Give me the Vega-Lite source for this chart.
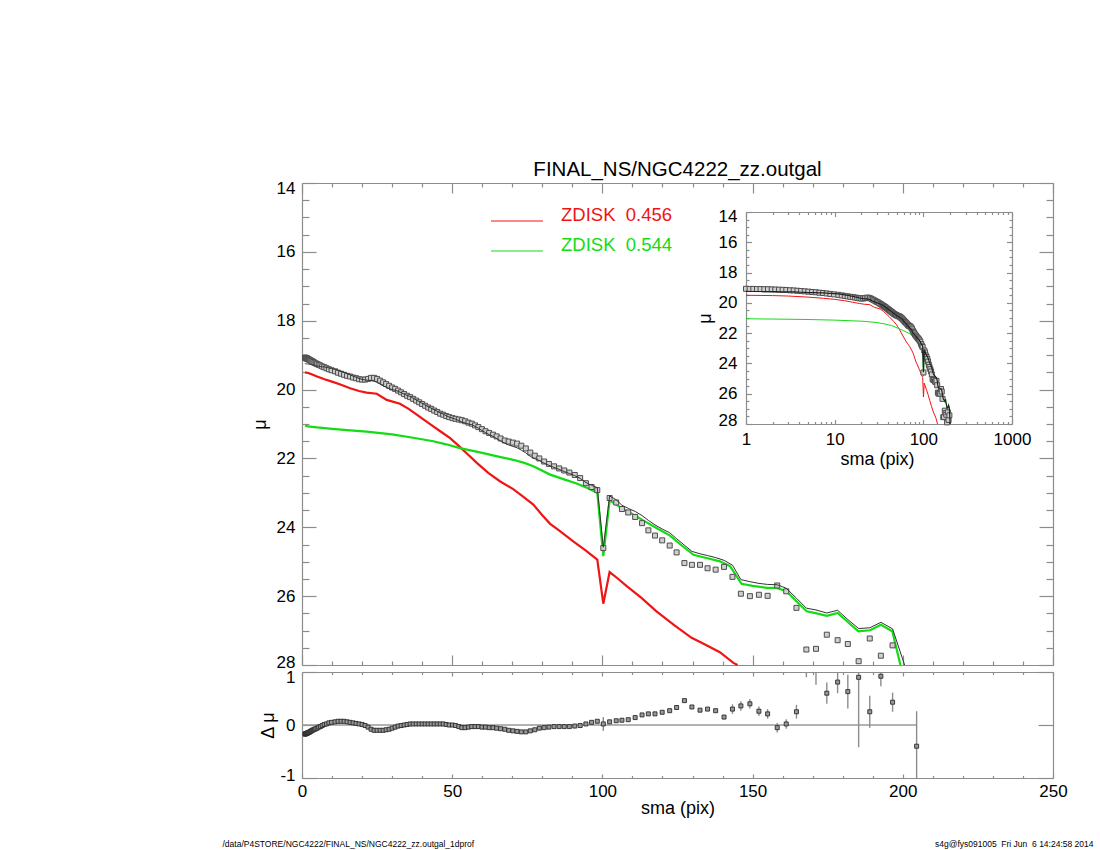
{
  "$schema": "https://vega.github.io/schema/vega-lite/v6.json",
  "width": 751,
  "height": 595,
  "autosize": "none",
  "padding": {"left": 302, "top": 183, "right": 47, "bottom": 72},
  "background": "white",
  "title": {
    "text": "FINAL_NS/NGC4222_zz.outgal",
    "frame": "group",
    "anchor": "middle",
    "baseline": "alphabetic",
    "offset": -17,
    "fontSize": 20.5,
    "fontWeight": "normal",
    "font": "Liberation Sans",
    "color": "black"
  },
  "datasets": {
    "prof": [
      {"sma": 1, "mu": 19.07, "res": -0.17, "model": 19.24},
      {"sma": 1.1, "mu": 19.08, "res": -0.17, "model": 19.25},
      {"sma": 1.21, "mu": 19.08, "res": -0.17, "model": 19.25},
      {"sma": 1.33, "mu": 19.09, "res": -0.16, "model": 19.25},
      {"sma": 1.46, "mu": 19.09, "res": -0.16, "model": 19.25},
      {"sma": 1.61, "mu": 19.1, "res": -0.16, "model": 19.26},
      {"sma": 1.77, "mu": 19.1, "res": -0.15, "model": 19.25},
      {"sma": 1.95, "mu": 19.11, "res": -0.15, "model": 19.26},
      {"sma": 2.14, "mu": 19.12, "res": -0.14, "model": 19.26},
      {"sma": 2.36, "mu": 19.13, "res": -0.14, "model": 19.27},
      {"sma": 2.59, "mu": 19.14, "res": -0.13, "model": 19.27},
      {"sma": 2.85, "mu": 19.15, "res": -0.12, "model": 19.27},
      {"sma": 3.14, "mu": 19.17, "res": -0.11, "model": 19.28},
      {"sma": 3.45, "mu": 19.18, "res": -0.1, "model": 19.28},
      {"sma": 3.8, "mu": 19.2, "res": -0.09, "model": 19.29},
      {"sma": 4.18, "mu": 19.22, "res": -0.08, "model": 19.3},
      {"sma": 4.6, "mu": 19.24, "res": -0.07, "model": 19.31},
      {"sma": 5.05, "mu": 19.26, "res": -0.06, "model": 19.32},
      {"sma": 5.56, "mu": 19.28, "res": -0.04, "model": 19.32},
      {"sma": 6.12, "mu": 19.3, "res": -0.03, "model": 19.33},
      {"sma": 6.73, "mu": 19.33, "res": -0.01, "model": 19.34},
      {"sma": 7.4, "mu": 19.35, "res": 0.01, "model": 19.34},
      {"sma": 8.14, "mu": 19.38, "res": 0.02, "model": 19.36},
      {"sma": 8.95, "mu": 19.41, "res": 0.04, "model": 19.37},
      {"sma": 9.85, "mu": 19.44, "res": 0.05, "model": 19.39},
      {"sma": 11, "mu": 19.47, "res": 0.06, "model": 19.41},
      {"sma": 12, "mu": 19.51, "res": 0.07, "model": 19.44},
      {"sma": 13, "mu": 19.54, "res": 0.07, "model": 19.47},
      {"sma": 14, "mu": 19.57, "res": 0.07, "model": 19.5},
      {"sma": 15, "mu": 19.6, "res": 0.06, "model": 19.54},
      {"sma": 16, "mu": 19.62, "res": 0.05, "model": 19.57},
      {"sma": 17, "mu": 19.65, "res": 0.04, "model": 19.61},
      {"sma": 18, "mu": 19.67, "res": 0.03, "model": 19.64},
      {"sma": 19, "mu": 19.7, "res": 0.02, "model": 19.68},
      {"sma": 20, "mu": 19.71, "res": 0.01, "model": 19.7},
      {"sma": 21, "mu": 19.71, "res": -0.01, "model": 19.72},
      {"sma": 22, "mu": 19.69, "res": -0.04, "model": 19.73},
      {"sma": 23, "mu": 19.66, "res": -0.08, "model": 19.74},
      {"sma": 24, "mu": 19.66, "res": -0.1, "model": 19.76},
      {"sma": 25, "mu": 19.69, "res": -0.1, "model": 19.79},
      {"sma": 26, "mu": 19.74, "res": -0.1, "model": 19.84},
      {"sma": 27, "mu": 19.79, "res": -0.1, "model": 19.89},
      {"sma": 28, "mu": 19.84, "res": -0.09, "model": 19.93},
      {"sma": 29, "mu": 19.89, "res": -0.08, "model": 19.97},
      {"sma": 30, "mu": 19.94, "res": -0.06, "model": 20.0},
      {"sma": 31, "mu": 19.98, "res": -0.04, "model": 20.02},
      {"sma": 32, "mu": 20.03, "res": -0.02, "model": 20.05},
      {"sma": 33, "mu": 20.08, "res": -0.01, "model": 20.09},
      {"sma": 34, "mu": 20.13, "res": 0.0, "model": 20.13},
      {"sma": 35, "mu": 20.18, "res": 0.01, "model": 20.17},
      {"sma": 36, "mu": 20.22, "res": 0.02, "model": 20.2},
      {"sma": 37, "mu": 20.27, "res": 0.02, "model": 20.25},
      {"sma": 38, "mu": 20.32, "res": 0.02, "model": 20.3},
      {"sma": 39, "mu": 20.37, "res": 0.02, "model": 20.35},
      {"sma": 40, "mu": 20.42, "res": 0.02, "model": 20.4},
      {"sma": 41, "mu": 20.47, "res": 0.02, "model": 20.45},
      {"sma": 42, "mu": 20.52, "res": 0.02, "model": 20.5},
      {"sma": 43, "mu": 20.56, "res": 0.02, "model": 20.54},
      {"sma": 44, "mu": 20.61, "res": 0.02, "model": 20.59},
      {"sma": 45, "mu": 20.65, "res": 0.02, "model": 20.63},
      {"sma": 46, "mu": 20.7, "res": 0.02, "model": 20.68},
      {"sma": 47, "mu": 20.73, "res": 0.02, "model": 20.71},
      {"sma": 48, "mu": 20.77, "res": 0.01, "model": 20.76},
      {"sma": 49, "mu": 20.8, "res": 0.0, "model": 20.8},
      {"sma": 50.1, "mu": 20.83, "res": 0.0, "model": 20.83},
      {"sma": 51.1, "mu": 20.85, "res": -0.01, "model": 20.86},
      {"sma": 52.2, "mu": 20.87, "res": -0.03, "model": 20.9},
      {"sma": 53.2, "mu": 20.89, "res": -0.05, "model": 20.94},
      {"sma": 54.3, "mu": 20.92, "res": -0.05, "model": 20.97},
      {"sma": 55.4, "mu": 20.96, "res": -0.04, "model": 21.0},
      {"sma": 56.5, "mu": 20.99, "res": -0.03, "model": 21.02},
      {"sma": 57.6, "mu": 21.04, "res": -0.03, "model": 21.07},
      {"sma": 58.7, "mu": 21.09, "res": -0.03, "model": 21.12},
      {"sma": 59.9, "mu": 21.15, "res": -0.04, "model": 21.19},
      {"sma": 61.1, "mu": 21.21, "res": -0.04, "model": 21.25},
      {"sma": 62.3, "mu": 21.26, "res": -0.05, "model": 21.31},
      {"sma": 63.6, "mu": 21.31, "res": -0.05, "model": 21.36},
      {"sma": 64.8, "mu": 21.36, "res": -0.06, "model": 21.42},
      {"sma": 66.1, "mu": 21.42, "res": -0.07, "model": 21.49},
      {"sma": 67.5, "mu": 21.48, "res": -0.08, "model": 21.56},
      {"sma": 68.8, "mu": 21.51, "res": -0.1, "model": 21.61},
      {"sma": 70.2, "mu": 21.54, "res": -0.11, "model": 21.65},
      {"sma": 71.6, "mu": 21.57, "res": -0.12, "model": 21.69},
      {"sma": 73.0, "mu": 21.63, "res": -0.13, "model": 21.76},
      {"sma": 74.5, "mu": 21.71, "res": -0.13, "model": 21.84},
      {"sma": 76.0, "mu": 21.83, "res": -0.11, "model": 21.94},
      {"sma": 77.5, "mu": 21.92, "res": -0.09, "model": 22.01},
      {"sma": 79.0, "mu": 22.0, "res": -0.06, "model": 22.06},
      {"sma": 80.6, "mu": 22.09, "res": -0.05, "model": 22.14},
      {"sma": 82.2, "mu": 22.16, "res": -0.04, "model": 22.2},
      {"sma": 83.9, "mu": 22.23, "res": -0.03, "model": 22.26},
      {"sma": 85.6, "mu": 22.29, "res": -0.03, "model": 22.32},
      {"sma": 87.3, "mu": 22.35, "res": -0.03, "model": 22.38},
      {"sma": 89.0, "mu": 22.41, "res": -0.03, "model": 22.44},
      {"sma": 90.8, "mu": 22.48, "res": -0.02, "model": 22.5},
      {"sma": 92.6, "mu": 22.57, "res": -0.01, "model": 22.58},
      {"sma": 94.5, "mu": 22.72, "res": 0.02, "model": 22.7},
      {"sma": 96.4, "mu": 22.83, "res": 0.05, "model": 22.78},
      {"sma": 98.3, "mu": 22.92, "res": 0.07, "model": 22.85},
      {"sma": 100.3, "mu": 24.6, "res": 0.02, "model": 24.58, "err": 0.13},
      {"sma": 102.4, "mu": 23.15, "res": 0.06, "model": 23.09},
      {"sma": 104.6, "mu": 23.28, "res": 0.08, "model": 23.2},
      {"sma": 106.5, "mu": 23.47, "res": 0.09, "model": 23.36},
      {"sma": 108.6, "mu": 23.57, "res": 0.1, "model": 23.45},
      {"sma": 110.9, "mu": 23.7, "res": 0.14, "model": 23.54},
      {"sma": 113.2, "mu": 23.88, "res": 0.19, "model": 23.66},
      {"sma": 115.3, "mu": 24.09, "res": 0.21, "model": 23.8},
      {"sma": 117.5, "mu": 24.24, "res": 0.21, "model": 23.93},
      {"sma": 119.9, "mu": 24.38, "res": 0.24, "model": 24.05},
      {"sma": 122.4, "mu": 24.53, "res": 0.27, "model": 24.16},
      {"sma": 124.7, "mu": 24.73, "res": 0.33, "model": 24.33},
      {"sma": 127.3, "mu": 25.04, "res": 0.46, "model": 24.52},
      {"sma": 129.8, "mu": 25.09, "res": 0.34, "model": 24.7},
      {"sma": 132.5, "mu": 25.09, "res": 0.28, "model": 24.77},
      {"sma": 135.0, "mu": 25.19, "res": 0.3, "model": 24.82},
      {"sma": 137.7, "mu": 25.23, "res": 0.27, "model": 24.88},
      {"sma": 140.5, "mu": 25.15, "res": 0.15, "model": 24.96, "err": 0.04},
      {"sma": 143.3, "mu": 25.44, "res": 0.3, "model": 25.1, "err": 0.09},
      {"sma": 146.1, "mu": 25.93, "res": 0.36, "model": 25.52, "err": 0.09},
      {"sma": 149.1, "mu": 26.0, "res": 0.4, "model": 25.58, "err": 0.09},
      {"sma": 152.1, "mu": 25.96, "res": 0.26, "model": 25.63, "err": 0.09},
      {"sma": 155.0, "mu": 25.99, "res": 0.21, "model": 25.66, "err": 0.09},
      {"sma": 158.2, "mu": 25.69, "res": -0.05, "model": 25.67, "err": 0.09},
      {"sma": 161.2, "mu": 25.86, "res": 0.02, "model": 25.77, "err": 0.09},
      {"sma": 164.6, "mu": 26.34, "res": 0.25, "model": 26.06, "err": 0.13},
      {"sma": 167.9, "mu": 27.55, "res": 1.2, "model": 26.35, "err": 0.3},
      {"sma": 171.1, "mu": 27.53, "res": 1.15, "model": 26.4, "err": 0.39},
      {"sma": 174.7, "mu": 27.12, "res": 0.6, "model": 26.49, "err": 0.2},
      {"sma": 178.3, "mu": 27.28, "res": 0.81, "model": 26.41, "err": 0.21},
      {"sma": 181.7, "mu": 27.39, "res": 0.63, "model": 26.68, "err": 0.32},
      {"sma": 185.3, "mu": 27.89, "res": 0.9, "model": 26.94, "err": 1.32},
      {"sma": 189.0, "mu": 27.23, "res": 0.25, "model": 26.92, "err": 0.3},
      {"sma": 192.7, "mu": 27.73, "res": 0.92, "model": 26.76, "err": 0.19},
      {"sma": 196.6, "mu": 27.43, "res": 0.43, "model": 26.95, "err": 0.18},
      {"sma": 200.6, "model": 28.05},
      {"sma": 204.6, "mu": 28.4, "res": -0.4, "err": 0.66}
    ],
    "comp": [
      {"comp": "ZDISK 0.456", "sma": 1, "mag": 19.5},
      {"comp": "ZDISK 0.456", "sma": 2, "mag": 19.52},
      {"comp": "ZDISK 0.456", "sma": 3, "mag": 19.55},
      {"comp": "ZDISK 0.456", "sma": 5, "mag": 19.62},
      {"comp": "ZDISK 0.456", "sma": 7.5, "mag": 19.7},
      {"comp": "ZDISK 0.456", "sma": 10, "mag": 19.77},
      {"comp": "ZDISK 0.456", "sma": 13, "mag": 19.86},
      {"comp": "ZDISK 0.456", "sma": 16, "mag": 19.96},
      {"comp": "ZDISK 0.456", "sma": 19, "mag": 20.04},
      {"comp": "ZDISK 0.456", "sma": 21.5, "mag": 20.09},
      {"comp": "ZDISK 0.456", "sma": 24.9, "mag": 20.12},
      {"comp": "ZDISK 0.456", "sma": 28.2, "mag": 20.3},
      {"comp": "ZDISK 0.456", "sma": 32.6, "mag": 20.41},
      {"comp": "ZDISK 0.456", "sma": 35.5, "mag": 20.56},
      {"comp": "ZDISK 0.456", "sma": 38.2, "mag": 20.73},
      {"comp": "ZDISK 0.456", "sma": 41, "mag": 20.9},
      {"comp": "ZDISK 0.456", "sma": 43.7, "mag": 21.07},
      {"comp": "ZDISK 0.456", "sma": 46.5, "mag": 21.24},
      {"comp": "ZDISK 0.456", "sma": 49.3, "mag": 21.41},
      {"comp": "ZDISK 0.456", "sma": 52, "mag": 21.62},
      {"comp": "ZDISK 0.456", "sma": 54.8, "mag": 21.85},
      {"comp": "ZDISK 0.456", "sma": 58.2, "mag": 22.13},
      {"comp": "ZDISK 0.456", "sma": 62, "mag": 22.42},
      {"comp": "ZDISK 0.456", "sma": 66, "mag": 22.67},
      {"comp": "ZDISK 0.456", "sma": 70.3, "mag": 22.89},
      {"comp": "ZDISK 0.456", "sma": 73.5, "mag": 23.1},
      {"comp": "ZDISK 0.456", "sma": 77, "mag": 23.34},
      {"comp": "ZDISK 0.456", "sma": 80, "mag": 23.65},
      {"comp": "ZDISK 0.456", "sma": 82.6, "mag": 23.9},
      {"comp": "ZDISK 0.456", "sma": 85, "mag": 24.05},
      {"comp": "ZDISK 0.456", "sma": 90.3, "mag": 24.41},
      {"comp": "ZDISK 0.456", "sma": 94.5, "mag": 24.68},
      {"comp": "ZDISK 0.456", "sma": 98.3, "mag": 24.94},
      {"comp": "ZDISK 0.456", "sma": 100.3, "mag": 26.22},
      {"comp": "ZDISK 0.456", "sma": 102.4, "mag": 25.3},
      {"comp": "ZDISK 0.456", "sma": 105, "mag": 25.48},
      {"comp": "ZDISK 0.456", "sma": 108.1, "mag": 25.71},
      {"comp": "ZDISK 0.456", "sma": 113, "mag": 26.05},
      {"comp": "ZDISK 0.456", "sma": 118, "mag": 26.44},
      {"comp": "ZDISK 0.456", "sma": 124, "mag": 26.85},
      {"comp": "ZDISK 0.456", "sma": 129.7, "mag": 27.21},
      {"comp": "ZDISK 0.456", "sma": 134, "mag": 27.4},
      {"comp": "ZDISK 0.456", "sma": 139.1, "mag": 27.63},
      {"comp": "ZDISK 0.456", "sma": 143.6, "mag": 27.94},
      {"comp": "ZDISK 0.456", "sma": 145, "mag": 28.0},
      {"comp": "ZDISK 0.544", "sma": 1, "mag": 21.05},
      {"comp": "ZDISK 0.544", "sma": 2, "mag": 21.07},
      {"comp": "ZDISK 0.544", "sma": 5, "mag": 21.1},
      {"comp": "ZDISK 0.544", "sma": 10, "mag": 21.14},
      {"comp": "ZDISK 0.544", "sma": 15, "mag": 21.18},
      {"comp": "ZDISK 0.544", "sma": 21.5, "mag": 21.22},
      {"comp": "ZDISK 0.544", "sma": 30, "mag": 21.3},
      {"comp": "ZDISK 0.544", "sma": 37, "mag": 21.4},
      {"comp": "ZDISK 0.544", "sma": 43.7, "mag": 21.5},
      {"comp": "ZDISK 0.544", "sma": 48, "mag": 21.59},
      {"comp": "ZDISK 0.544", "sma": 52.6, "mag": 21.7},
      {"comp": "ZDISK 0.544", "sma": 60, "mag": 21.84},
      {"comp": "ZDISK 0.544", "sma": 65, "mag": 21.94},
      {"comp": "ZDISK 0.544", "sma": 70.3, "mag": 22.04},
      {"comp": "ZDISK 0.544", "sma": 74, "mag": 22.13},
      {"comp": "ZDISK 0.544", "sma": 77, "mag": 22.23},
      {"comp": "ZDISK 0.544", "sma": 82.6, "mag": 22.47},
      {"comp": "ZDISK 0.544", "sma": 87, "mag": 22.6},
      {"comp": "ZDISK 0.544", "sma": 91.4, "mag": 22.73},
      {"comp": "ZDISK 0.544", "sma": 95, "mag": 22.86},
      {"comp": "ZDISK 0.544", "sma": 98.3, "mag": 23.0},
      {"comp": "ZDISK 0.544", "sma": 100.3, "mag": 24.84},
      {"comp": "ZDISK 0.544", "sma": 102.4, "mag": 23.22},
      {"comp": "ZDISK 0.544", "sma": 106, "mag": 23.42},
      {"comp": "ZDISK 0.544", "sma": 110.2, "mag": 23.63},
      {"comp": "ZDISK 0.544", "sma": 114, "mag": 23.82},
      {"comp": "ZDISK 0.544", "sma": 118, "mag": 24.02},
      {"comp": "ZDISK 0.544", "sma": 122.5, "mag": 24.24},
      {"comp": "ZDISK 0.544", "sma": 126, "mag": 24.5},
      {"comp": "ZDISK 0.544", "sma": 130.3, "mag": 24.8},
      {"comp": "ZDISK 0.544", "sma": 135, "mag": 24.9},
      {"comp": "ZDISK 0.544", "sma": 139.1, "mag": 24.99},
      {"comp": "ZDISK 0.544", "sma": 142.5, "mag": 25.13},
      {"comp": "ZDISK 0.544", "sma": 146.3, "mag": 25.64},
      {"comp": "ZDISK 0.544", "sma": 150, "mag": 25.7},
      {"comp": "ZDISK 0.544", "sma": 154.7, "mag": 25.76},
      {"comp": "ZDISK 0.544", "sma": 158, "mag": 25.76},
      {"comp": "ZDISK 0.544", "sma": 161.3, "mag": 25.86},
      {"comp": "ZDISK 0.544", "sma": 164.6, "mag": 26.15},
      {"comp": "ZDISK 0.544", "sma": 168, "mag": 26.44},
      {"comp": "ZDISK 0.544", "sma": 171.3, "mag": 26.5},
      {"comp": "ZDISK 0.544", "sma": 174.7, "mag": 26.57},
      {"comp": "ZDISK 0.544", "sma": 178.3, "mag": 26.49},
      {"comp": "ZDISK 0.544", "sma": 181.7, "mag": 26.75},
      {"comp": "ZDISK 0.544", "sma": 185.2, "mag": 27.02},
      {"comp": "ZDISK 0.544", "sma": 189.1, "mag": 26.99},
      {"comp": "ZDISK 0.544", "sma": 192.7, "mag": 26.83},
      {"comp": "ZDISK 0.544", "sma": 196.5, "mag": 27.02},
      {"comp": "ZDISK 0.544", "sma": 199.2, "mag": 28.0}
    ],
    "zero": [{"from": 0, "to": 204.6, "level": 0}]
  },
  "layer": [
    {
      "layer": [
        {
          "data": {"name": "comp"},
          "mark": {"type": "line", "strokeWidth": 2.2},
          "encoding": {
            "x": {
              "field": "sma", "type": "quantitative",
              "scale": {"domain": [0, 250], "range": [0, 751], "nice": false, "zero": false},
              "axis": {
                "orient": "bottom", "offset": -113, "title": null, "labels": false,
                "values": [0,10,20,30,40,50,60,70,80,90,100,110,120,130,140,150,160,170,180,190,200,210,220,230,240,250],
                "tickSize": {"expr": "datum.value % 50 == 0 ? -10 : -4"}
              }
            },
            "y": {
              "field": "mag", "type": "quantitative",
              "scale": {"domain": [14, 28], "range": [0, 482], "nice": false, "zero": false, "clamp": true},
              "axis": {
                "orient": "right", "title": null, "labels": false,
                "values": [14,14.5,15,15.5,16,16.5,17,17.5,18,18.5,19,19.5,20,20.5,21,21.5,22,22.5,23,23.5,24,24.5,25,25.5,26,26.5,27,27.5,28],
                "tickSize": {"expr": "datum.value % 2 == 0 ? -14 : -7"}
              }
            },
            "color": {
              "field": "comp", "type": "nominal",
              "scale": {"domain": ["ZDISK 0.456", "ZDISK 0.544"], "range": ["#f01414", "#14dc14"]},
              "legend": {
                "orient": "none", "legendX": 189, "legendY": 12, "title": null, "padding": 0,
                "symbolType": "M-1,-0.019H1V0.019H-1Z", "symbolSize": 2704, "symbolStrokeWidth": 0,
                "symbolFillColor": {"expr": "datum.value == 'ZDISK 0.456' ? '#f01414' : '#14dc14'"},
                "symbolOpacity": 1,
                "labelFontSize": 18.5, "labelOffset": 18, "rowPadding": -5,
                "labelBaseline": "alphabetic",
                "labelExpr": "replace(datum.label, ' ', '\u00a0\u00a0')",
                "labelColor": {"expr": "datum.value == 'ZDISK 0.456' ? '#f01414' : '#14dc14'"}
              }
            }
          }
        },
        {
          "data": {"name": "prof"},
          "transform": [{"filter": "isValid(datum.mu) && datum.mu <= 28"}],
          "mark": {"type": "point", "shape": "square", "filled": true, "size": 25, "fill": "#cfcfcf", "stroke": "#4d4d4d", "strokeWidth": 1, "opacity": 1},
          "encoding": {
            "x": {
              "field": "sma", "type": "quantitative",
              "scale": {"domain": [0, 250], "range": [0, 751], "nice": false, "zero": false},
              "axis": {
                "orient": "top", "title": null, "labels": false,
                "values": [0,10,20,30,40,50,60,70,80,90,100,110,120,130,140,150,160,170,180,190,200,210,220,230,240,250],
                "tickSize": {"expr": "datum.value % 50 == 0 ? -10 : -4"}
              }
            },
            "y": {
              "field": "mu", "type": "quantitative",
              "scale": {"domain": [14, 28], "range": [0, 482], "nice": false, "zero": false, "clamp": true},
              "axis": {
                "orient": "left", "title": "μ", "titleX": -42, "titleY": 241, "titleBaseline": "middle",
                "values": [14,14.5,15,15.5,16,16.5,17,17.5,18,18.5,19,19.5,20,20.5,21,21.5,22,22.5,23,23.5,24,24.5,25,25.5,26,26.5,27,27.5,28],
                "tickSize": {"expr": "datum.value % 2 == 0 ? -14 : -7"},
                "labelExpr": "datum.value % 2 == 0 ? toString(datum.value) : ''",
                "labelPadding": 21,
                "labelOffset": {"expr": "datum.value == 14 ? 5 : datum.value == 28 ? -3 : 0"}
              }
            }
          }
        },
        {
          "data": {"name": "prof"},
          "transform": [{"filter": "isValid(datum.model)"}],
          "mark": {"type": "line", "color": "#333333", "strokeWidth": 1},
          "encoding": {
            "x": {"field": "sma", "type": "quantitative", "scale": {"domain": [0, 250], "range": [0, 751], "nice": false, "zero": false}, "axis": null},
            "y": {"field": "model", "type": "quantitative", "scale": {"domain": [14, 28], "range": [0, 482], "nice": false, "zero": false, "clamp": true}, "axis": null}
          }
        }
      ],
      "resolve": {"axis": {"x": "independent", "y": "independent"}}
    },
    {
      "layer": [
        {
          "data": {"name": "comp"},
          "mark": {"type": "line", "strokeWidth": 1},
          "encoding": {
            "x": {
              "field": "sma", "type": "quantitative",
              "scale": {"type": "log", "domain": [1, 1000], "range": [444, 710], "nice": false},
              "axis": {
                "orient": "top", "offset": -29, "title": null, "labels": false,
                "values": [1,2,3,4,5,6,7,8,9,10,20,30,40,50,60,70,80,90,100,200,300,400,500,600,700,800,900,1000],
                "tickSize": {"expr": "indexof([1,10,100,1000], datum.value) >= 0 ? -4.5 : -2.5"}
              }
            },
            "y": {
              "field": "mag", "type": "quantitative",
              "scale": {"domain": [14, 28], "range": [29, 241], "nice": false, "zero": false, "clamp": true},
              "axis": {
                "orient": "right", "offset": -41, "title": null, "labels": false,
                "values": [14,14.5,15,15.5,16,16.5,17,17.5,18,18.5,19,19.5,20,20.5,21,21.5,22,22.5,23,23.5,24,24.5,25,25.5,26,26.5,27,27.5,28],
                "tickSize": {"expr": "datum.value % 2 == 0 ? -5.5 : -3"}
              }
            },
            "color": {"field": "comp", "type": "nominal", "scale": {"domain": ["ZDISK 0.456", "ZDISK 0.544"], "range": ["#f01414", "#14dc14"]}, "legend": null}
          }
        },
        {
          "data": {"name": "prof"},
          "transform": [{"filter": "isValid(datum.mu) && datum.mu <= 28"}],
          "mark": {"type": "point", "shape": "square", "filled": true, "size": 25, "fill": "#cfcfcf", "stroke": "#4d4d4d", "strokeWidth": 1, "opacity": 1},
          "encoding": {
            "x": {
              "field": "sma", "type": "quantitative",
              "scale": {"type": "log", "domain": [1, 1000], "range": [444, 710], "nice": false},
              "axis": {
                "orient": "bottom", "offset": -354,
                "values": [1,2,3,4,5,6,7,8,9,10,20,30,40,50,60,70,80,90,100,200,300,400,500,600,700,800,900,1000],
                "tickSize": {"expr": "indexof([1,10,100,1000], datum.value) >= 0 ? -4.5 : -2.5"},
                "labelExpr": "indexof([1,10,100,1000], datum.value) >= 0 ? toString(datum.value) : ''",
                "labelPadding": 11.5,
                "title": "sma (pix)", "titleX": 575, "titleY": 35, "titleBaseline": "middle", "titleAlign": "center"
              }
            },
            "y": {
              "field": "mu", "type": "quantitative",
              "scale": {"domain": [14, 28], "range": [29, 241], "nice": false, "zero": false, "clamp": true},
              "axis": {
                "orient": "left", "offset": -444,
                "values": [14,14.5,15,15.5,16,16.5,17,17.5,18,18.5,19,19.5,20,20.5,21,21.5,22,22.5,23,23.5,24,24.5,25,25.5,26,26.5,27,27.5,28],
                "tickSize": {"expr": "datum.value % 2 == 0 ? -5.5 : -3"},
                "labelExpr": "datum.value % 2 == 0 ? toString(datum.value) : ''",
                "labelPadding": 14.5,
                "labelOffset": {"expr": "datum.value == 14 ? 4 : datum.value == 28 ? -4 : 0"},
                "title": "μ", "titleX": -41, "titleY": 135, "titleBaseline": "middle"
              }
            }
          }
        },
        {
          "data": {"name": "prof"},
          "transform": [{"filter": "isValid(datum.model)"}],
          "mark": {"type": "line", "color": "#222222", "strokeWidth": 1.2},
          "encoding": {
            "x": {"field": "sma", "type": "quantitative", "scale": {"type": "log", "domain": [1, 1000], "range": [444, 710], "nice": false}, "axis": null},
            "y": {"field": "model", "type": "quantitative", "scale": {"domain": [14, 28], "range": [29, 241], "nice": false, "zero": false, "clamp": true}, "axis": null}
          }
        }
      ],
      "resolve": {"axis": {"x": "independent", "y": "independent"}}
    },
    {
      "layer": [
        {
          "data": {"name": "zero"},
          "mark": {"type": "rule", "color": "#9a9a9a", "strokeWidth": 1.5},
          "encoding": {
            "x": {
              "field": "from", "type": "quantitative",
              "scale": {"domain": [0, 250], "range": [0, 751], "nice": false, "zero": false},
              "axis": {
                "orient": "top", "offset": -489, "labels": false,
                "values": [0,10,20,30,40,50,60,70,80,90,100,110,120,130,140,150,160,170,180,190,200,210,220,230,240,250],
                "tickSize": {"expr": "datum.value % 50 == 0 ? -4 : -2.5"},
                "title": "s4g@fys091005\u00a0 Fri Jun\u00a0 6 14:24:58 2014",
                "titleX": 791, "titleY": 174, "titleAlign": "right", "titleBaseline": "alphabetic",
                "titleFontSize": 8.5, "titleAngle": 0
              }
            },
            "x2": {"field": "to"},
            "y": {
              "field": "level", "type": "quantitative",
              "scale": {"domain": [-1, 1], "range": [595, 489], "nice": false, "zero": false, "clamp": true},
              "axis": {
                "orient": "right", "labels": false, "values": [-1, 0, 1], "tickSize": -15,
                "title": "/data/P4STORE/NGC4222/FINAL_NS/NGC4222_zz.outgal_1dprof",
                "titleX": -831, "titleY": 663, "titleAlign": "left", "titleBaseline": "alphabetic",
                "titleFontSize": 8.5, "titleAngle": 0
              }
            }
          }
        },
        {
          "data": {"name": "prof"},
          "transform": [{"filter": "datum.err > 0"}],
          "mark": {"type": "errorbar", "color": "#8c8c8c", "thickness": 1.4},
          "encoding": {
            "x": {"field": "sma", "type": "quantitative", "scale": {"domain": [0, 250], "range": [0, 751], "nice": false, "zero": false}, "axis": null},
            "y": {"field": "res", "type": "quantitative", "scale": {"domain": [-1, 1], "range": [595, 489], "nice": false, "zero": false, "clamp": true}, "axis": null},
            "yError": {"field": "err"}
          }
        },
        {
          "data": {"name": "prof"},
          "transform": [{"filter": "isValid(datum.res) && datum.res <= 1 && datum.res >= -1"}],
          "mark": {"type": "point", "shape": "square", "filled": true, "size": 16, "fill": "#999999", "stroke": "#2a2a2a", "strokeWidth": 0.9, "opacity": 1},
          "encoding": {
            "x": {
              "field": "sma", "type": "quantitative",
              "scale": {"domain": [0, 250], "range": [0, 751], "nice": false, "zero": false},
              "axis": {
                "orient": "bottom",
                "values": [0,10,20,30,40,50,60,70,80,90,100,110,120,130,140,150,160,170,180,190,200,210,220,230,240,250],
                "tickSize": {"expr": "datum.value % 50 == 0 ? -4 : -2.5"},
                "labelExpr": "datum.value % 50 == 0 ? toString(datum.value) : ''",
                "labelPadding": 9,
                "title": "sma (pix)", "titleX": 375.5, "titleY": 30, "titleBaseline": "middle", "titleAlign": "center"
              }
            },
            "y": {
              "field": "res", "type": "quantitative",
              "scale": {"domain": [-1, 1], "range": [595, 489], "nice": false, "zero": false, "clamp": true},
              "axis": {
                "orient": "left", "values": [-1, 0, 1], "tickSize": -15,
                "labelExpr": "toString(datum.value)",
                "labelPadding": 22,
                "labelOffset": {"expr": "datum.value == 1 ? 5 : datum.value == -1 ? -3 : 0"},
                "title": "Δ μ", "titleX": -34, "titleY": 542, "titleBaseline": "middle"
              }
            }
          }
        }
      ],
      "resolve": {"axis": {"x": "independent", "y": "independent"}}
    }
  ],
  "resolve": {"scale": {"x": "independent", "y": "independent"}},
  "config": {
    "font": "Liberation Sans",
    "view": {"stroke": null},
    "axis": {
      "grid": false,
      "labelFlush": false,
      "labelOverlap": false,
      "labelBound": false,
      "domainColor": "#8c8c8c",
      "domainWidth": 1.2,
      "tickColor": "#8c8c8c",
      "tickWidth": 1.2,
      "labelColor": "black",
      "labelFont": "Liberation Sans",
      "labelFontSize": 17,
      "titleFont": "Liberation Sans",
      "titleFontSize": 18,
      "titleFontWeight": "normal",
      "titleColor": "black"
    },
    "legend": {"labelFont": "Liberation Sans"}
  }
}
